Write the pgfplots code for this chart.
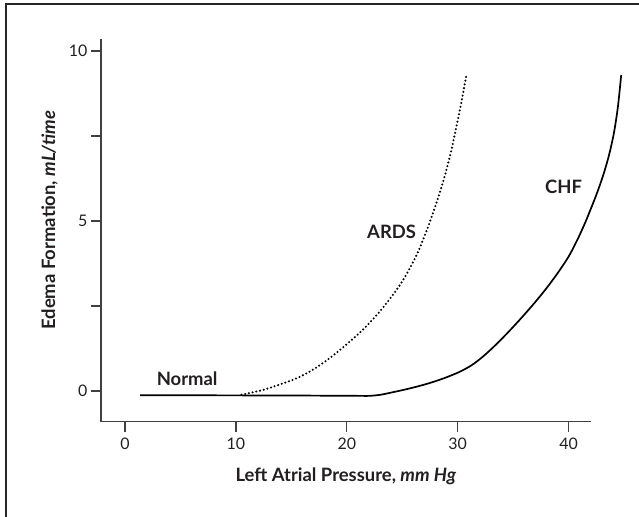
\documentclass[border=0pt]{standalone}
\usepackage{pgfplots}
\pgfplotsset{compat=1.18}
\usepackage{fontspec}
\setmainfont{Lato}
\definecolor{axgray}{HTML}{404040}
\definecolor{txt}{HTML}{231f20}
\begin{document}
\begin{tikzpicture}[x=1bp,y=1bp]
\path[use as bounding box] (0,0) rectangle (639,-517);
\draw[line width=1.5bp, color=black!85] (6,-517) -- (6,-4) -- (639,-4);
\begin{axis}[
  at={(101bp,-421.7bp)}, anchor=south west,
  scale only axis, width=489.7bp, height=382.7bp,
  xmin=-2.17, xmax=42.0, ymin=-0.9, ymax=10.35,
  axis x line*=bottom, axis y line*=left,
  axis line style={line width=1.5bp, axgray},
  xtick={0,10,20,30,40}, ytick={0,2.5,5,7.5,10}, yticklabels={0,,5,,10},
  minor tick num=0,
  tick align=outside, major tick length=10bp,
  tick style={line width=1.3bp, axgray},
  /pgf/number format/assume math mode=true,
  tick label style={font=\fontsize{16}{18}\selectfont, text=txt},
  xticklabel style={yshift=-3bp},
  every axis x label/.style={at={(axis description cs:0.5,-0.1568)}, anchor=base, font=\bfseries\fontsize{18.5}{22}\selectfont, text=txt},
  every axis y label/.style={at={(axis description cs:-0.0939,0.527)}, rotate=90, anchor=base, font=\bfseries\fontsize{18.5}{22}\selectfont, text=txt},
  xlabel={Left Atrial Pressure, \textit{mm Hg}},
  ylabel={Edema Formation, \textit{mL/time}},
  clip=false,
]
% Normal / CHF (solid)
\addplot[black, line width=1.7bp, smooth, tension=0.5] coordinates {
(1.35,-0.12) (8,-0.125) (15,-0.13) (21,-0.14) (22.0,-0.14) (23.0,-0.11) (24.2,-0.03)
(25.7,0.08) (27.2,0.21) (28.7,0.37) (30.2,0.57) (31.3,0.77) (32.3,1.02) (33.5,1.38)
(34.7,1.78) (35.8,2.17) (36.9,2.58) (38.0,3.02) (39.0,3.46) (40.0,3.95) (40.8,4.45)
(41.5,4.95) (42.0,5.35) (42.6,5.85) (43.2,6.42) (43.7,7.0) (44.1,7.6) (44.45,8.35) (44.75,9.29)
};
% ARDS (dotted)
\addplot[black, line width=2.3bp, line cap=round, dash pattern=on 0bp off 3.8bp, smooth, tension=0.5] coordinates {
(10.5,-0.11) (12.5,0.04) (14,0.2) (15.5,0.38) (17,0.64) (18.5,0.98) (20,1.38) (21.5,1.82)
(23,2.35) (24.5,2.98) (25.5,3.5) (26.5,4.15) (27.5,4.98) (28.5,5.95) (29.3,6.9) (30.0,7.95)
(30.4,8.6) (30.8,9.32)
};
\node[font=\bfseries\fontsize{18.5}{22}\selectfont, text=txt] at (axis cs:5.6,0.35) {Normal};
\node[font=\bfseries\fontsize{18.5}{22}\selectfont, text=txt] at (axis cs:24.04,4.69) {ARDS};
\node[font=\bfseries\fontsize{18.5}{22}\selectfont, text=txt] at (axis cs:39.56,6.01) {CHF};
\end{axis}
\end{tikzpicture}
\end{document}
